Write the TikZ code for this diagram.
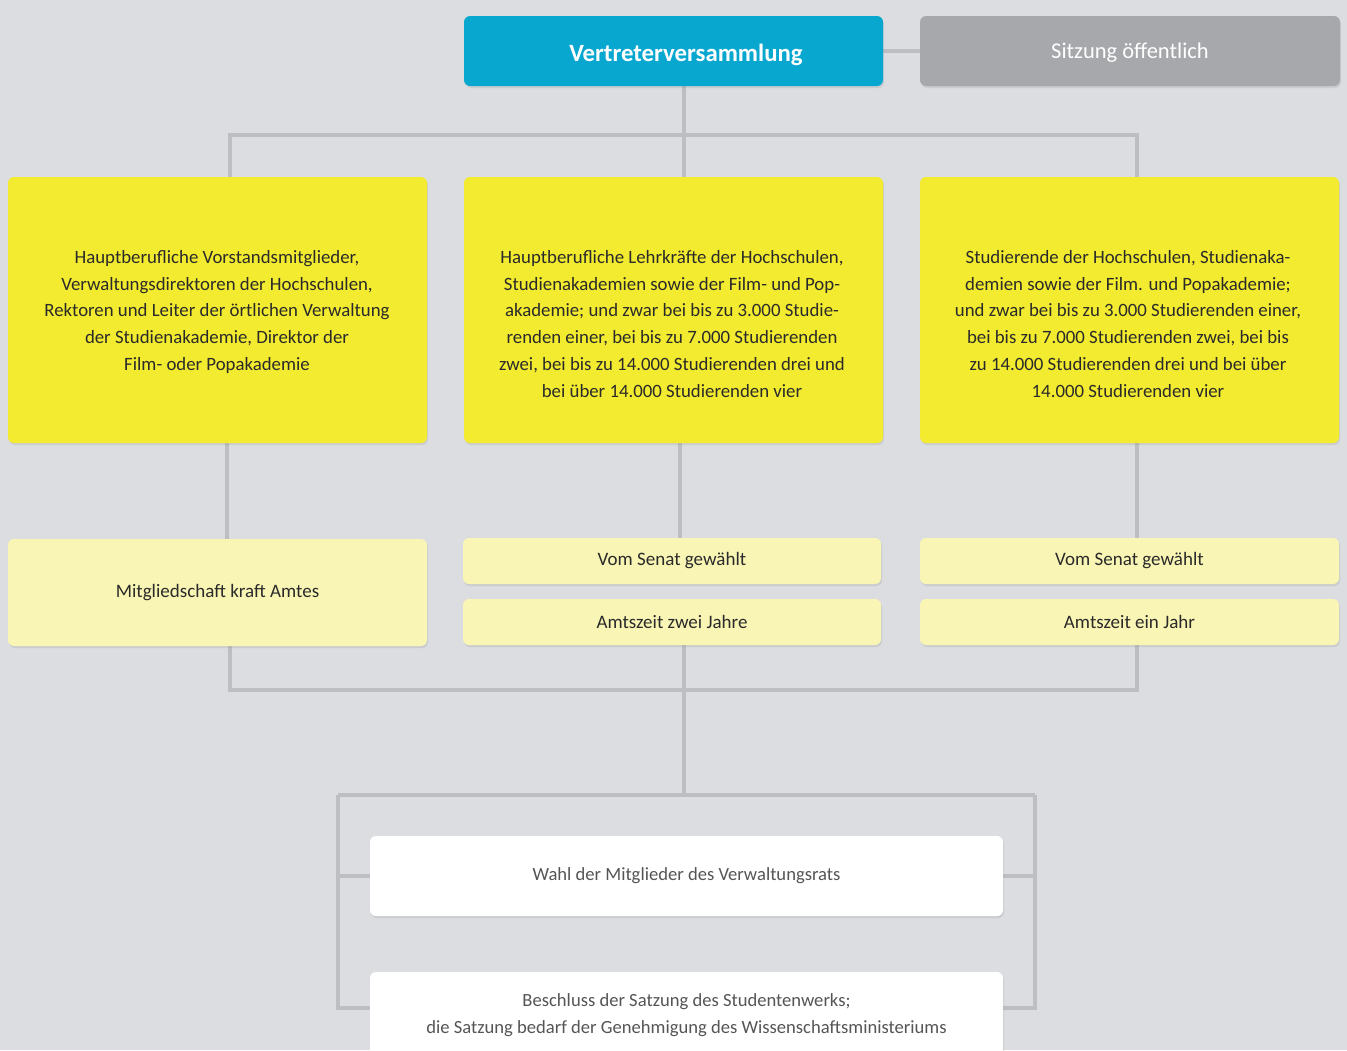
\documentclass[tikz,border=0pt]{standalone}
\usepackage{fontspec}
\setmainfont{Carlito}
\usetikzlibrary{shadows}
\pgfdeclarelayer{background}
\pgfsetlayers{background,main}
\definecolor{bg}{HTML}{DCDDE0}
\definecolor{vvblue}{HTML}{08A7D0}
\definecolor{pubgray}{HTML}{A7A8AB}
\definecolor{ystrong}{HTML}{F3EB2F}
\definecolor{ylight}{HTML}{F9F5B5}
\definecolor{linegray}{HTML}{BDBEC1}
\definecolor{textdark}{HTML}{2A2A2A}
\definecolor{textgray}{HTML}{555555}
\tikzset{
  box/.style={rectangle, rounded corners=6pt, inner sep=0pt, outer sep=0pt,
    drop shadow={opacity=0.18, shadow xshift=1pt, shadow yshift=-2pt}},
  headbox/.style={box, fill=vvblue},
  headtext/.style={inner sep=0pt, text=white, text depth=0pt, font=\fontsize{24.8}{28}\selectfont\bfseries},
  pubbox/.style={box, fill=pubgray, text=white, text depth=0pt, font=\fontsize{22.5}{26}\selectfont},
  groupbox/.style={box, fill=ystrong},
  infobox/.style={box, fill=ylight, text=textdark, font=\fontsize{19}{23}\selectfont},
  taskbox/.style={box, fill=white, text=textgray, font=\fontsize{18.6}{27}\selectfont, align=center},
  grouptext/.style={anchor=north, align=center, inner sep=0pt, text=textdark,
    font=\fontsize{18.8}{26.8}\selectfont},
  conn/.style={draw=linegray, line width=4.5pt},
}
\begin{document}
\begin{tikzpicture}[x=1pt, y=-1pt]
\useasboundingbox (0,0) rectangle (1347,1050);
\clip (0,0) rectangle (1347,1050);

% top row
\node[headbox, minimum width=419pt, minimum height=70pt] (vv) at (673.5,51) {};
\node[headtext] (vvt) at (686,53) {Vertreterversammlung};
\node[pubbox, minimum width=420pt, minimum height=70pt] (pub) at (1130,51) {Sitzung öffentlich};

% member groups
\node[groupbox, minimum width=419pt, minimum height=266pt] (gA) at (217.5,310) {};
\node[groupbox, minimum width=419pt, minimum height=266pt] (gB) at (673.5,310) {};
\node[groupbox, minimum width=419pt, minimum height=266pt] (gC) at (1129.5,310) {};

\node[grouptext] (tA) at (217,250) {Hauptberufliche Vorstandsmitglieder,\\
Verwaltungsdirektoren der Hochschulen,\\
Rektoren und Leiter der örtlichen Verwaltung\\
der Studienakademie, Direktor der\\
Film- oder Popakademie};
\node[grouptext] (tB) at (672,250) {Hauptberufliche Lehrkräfte der Hochschulen,\\
Studienakademien sowie der Film- und Pop-\\
akademie; und zwar bei bis zu 3.000 Studie-\\
renden einer, bei bis zu 7.000 Studierenden\\
zwei, bei bis zu 14.000 Studierenden drei und\\
bei über 14.000 Studierenden vier};
\node[grouptext] (tC) at (1128,250) {Studierende der Hochschulen, Studienaka-\\
demien sowie der Film. und Popakademie;\\
und zwar bei bis zu 3.000 Studierenden einer,\\
bei bis zu 7.000 Studierenden zwei, bei bis\\
zu 14.000 Studierenden drei und bei über\\
14.000 Studierenden vier};

% membership details
\node[infobox, minimum width=419pt, minimum height=107pt] (iA) at (217.5,592.5) {Mitgliedschaft kraft Amtes};
\node[infobox, minimum width=418pt, minimum height=46pt] (iB1) at (672,561) {Vom Senat gewählt};
\node[infobox, minimum width=418pt, minimum height=46pt] (iB2) at (672,622) {Amtszeit zwei Jahre};
\node[infobox, minimum width=419pt, minimum height=46pt] (iC1) at (1129.5,561) {Vom Senat gewählt};
\node[infobox, minimum width=419pt, minimum height=46pt] (iC2) at (1129.5,622) {Amtszeit ein Jahr};

% tasks
\node[taskbox, minimum width=633pt, minimum height=80pt] (w1) at (686.5,876) {Wahl der Mitglieder des Verwaltungsrats};
\node[taskbox, minimum width=633pt, minimum height=110pt] (w2) at (686.5,1027) {};
\node[anchor=north, inner sep=0pt, align=center, text=textgray, font=\fontsize{18.6}{27}\selectfont] (w2t) at (686.5,993)
  {Beschluss der Satzung des Studentenwerks;\\die Satzung bedarf der Genehmigung des Wissenschaftsministeriums};

% junction points
\coordinate (topL) at (230,135);
\coordinate (topM) at (684,135);
\coordinate (topR) at (1137,135);
\coordinate (midL) at (230,690);
\coordinate (midM) at (684,690);
\coordinate (midR) at (1137,690);
\coordinate (lowM) at (684,795);
\coordinate (lowL) at (338,795);
\coordinate (lowR) at (1035,795);
\coordinate (sideL) at (338,1008);
\coordinate (sideR) at (1035,1008);

\begin{pgfonlayer}{background}
  \fill[bg] (0,0) rectangle (1347,1050);
  \draw[conn] (vv.east) -- (pub.west);
  \draw[conn] (vv.south -| topM) -- (gB.north -| topM);
  \draw[conn] (gA.north -| topL) -- (topL) -- (topR) -- (gC.north -| topR);
  \draw[conn] ([xshift=9.5pt]gA.south) -- ([xshift=9.5pt]iA.north);
  \draw[conn] ([xshift=6.5pt]gB.south) -- ([xshift=8pt]iB1.north);
  \draw[conn] ([xshift=7.5pt]gC.south) -- ([xshift=7.5pt]iC1.north);
  \draw[conn] (iA.south -| midL) -- (midL) -- (midR) -- (iC2.south -| midR);
  \draw[conn] (iB2.south -| midM) -- (lowM);
  \draw[conn] (lowL) -- (lowR);
  \draw[conn] (lowL) -- (sideL) -- (sideL -| w2.west);
  \draw[conn] (lowR) -- (sideR) -- (sideR -| w2.east);
  \draw[conn] (w1.west -| lowL) -- (w1.west);
  \draw[conn] (w1.east -| lowR) -- (w1.east);
\end{pgfonlayer}
\end{tikzpicture}
\end{document}
